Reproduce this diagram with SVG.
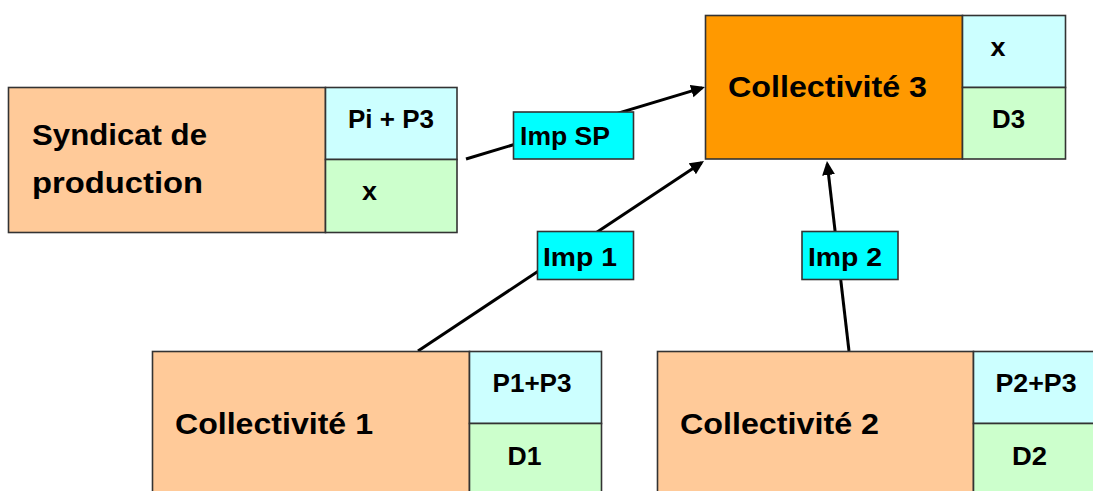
<svg xmlns="http://www.w3.org/2000/svg" width="1093" height="491" viewBox="0 0 1093 491">
  <style>
    .main { fill: #FFCA99; stroke: #333; stroke-width: 1.6; }
    .hub { fill: #FF9900; stroke: #333; stroke-width: 1.6; }
    .top { fill: #CCFFFF; stroke: #333; stroke-width: 1.6; }
    .bot { fill: #CCFFCC; stroke: #333; stroke-width: 1.6; }
    .tag { fill: #00FFFF; stroke: #333; stroke-width: 1.6; }
    .link { stroke: #000; stroke-width: 3; fill: none; marker-end: url(#head); }
    text { font-family: "Liberation Sans", Arial, sans-serif; font-weight: bold; fill: #000; }
    .big { font-size: 30px; }
    .small { font-size: 25px; }
  </style>
  <defs>
    <marker id="head" markerUnits="userSpaceOnUse" markerWidth="16" markerHeight="14" refX="11" refY="6.5" orient="auto">
      <path d="M0,0 L14,6.5 L0,13 Z" fill="#000"/>
    </marker>
  </defs>

  <rect width="1093" height="491" fill="#FFFFFF"/>

  <!-- connectors, with their labels on top -->
  <g id="connectors">
    <line class="link" x1="466" y1="159" x2="702.1" y2="87.9"/>
    <line class="link" x1="418" y1="351" x2="701.5" y2="162.7"/>
    <line class="link" x1="849" y1="351" x2="827.3" y2="164"/>

    <g id="label-imp-sp">
      <rect class="tag" x="513.5" y="112" width="120" height="47"/>
      <text class="small" x="520" y="145" textLength="90" lengthAdjust="spacingAndGlyphs">Imp SP</text>
    </g>
    <g id="label-imp-1">
      <rect class="tag" x="537.5" y="231.5" width="96" height="48"/>
      <text class="small" x="543" y="266" textLength="74" lengthAdjust="spacingAndGlyphs">Imp 1</text>
    </g>
    <g id="label-imp-2">
      <rect class="tag" x="802" y="231.5" width="96" height="48"/>
      <text class="small" x="808" y="266" textLength="74" lengthAdjust="spacingAndGlyphs">Imp 2</text>
    </g>
  </g>

  <!-- Syndicat de production -->
  <g id="node-syndicat">
    <rect class="main" x="8.5" y="87.5" width="317" height="145"/>
    <rect class="top" x="325.5" y="87.5" width="131.5" height="72"/>
    <rect class="bot" x="325.5" y="159.5" width="131.5" height="73"/>
    <text class="big" x="32" y="145" textLength="175" lengthAdjust="spacingAndGlyphs">Syndicat de</text>
    <text class="big" x="32" y="193" textLength="171" lengthAdjust="spacingAndGlyphs">production</text>
    <text class="small" x="348" y="127.5" textLength="86" lengthAdjust="spacingAndGlyphs">Pi + P3</text>
    <text class="small" x="362" y="200" textLength="15" lengthAdjust="spacingAndGlyphs">x</text>
  </g>

  <!-- Collectivité 3 -->
  <g id="node-collectivite-3">
    <rect class="hub" x="705.5" y="15.5" width="257" height="143.5"/>
    <rect class="top" x="962.5" y="15.5" width="103" height="72"/>
    <rect class="bot" x="962.5" y="87.5" width="103" height="71.5"/>
    <text class="big" x="728" y="97" textLength="199" lengthAdjust="spacingAndGlyphs">Collectivité 3</text>
    <text class="small" x="990.5" y="56" textLength="15" lengthAdjust="spacingAndGlyphs">x</text>
    <text class="small" x="992" y="128" textLength="33" lengthAdjust="spacingAndGlyphs">D3</text>
  </g>

  <!-- Collectivité 1 -->
  <g id="node-collectivite-1">
    <rect class="main" x="152.5" y="351.5" width="317" height="145"/>
    <rect class="top" x="469.5" y="351.5" width="132" height="72"/>
    <rect class="bot" x="469.5" y="423.5" width="132" height="73"/>
    <text class="big" x="175" y="433.5" textLength="198" lengthAdjust="spacingAndGlyphs">Collectivité 1</text>
    <text class="small" x="492.5" y="391.5" textLength="79" lengthAdjust="spacingAndGlyphs">P1+P3</text>
    <text class="small" x="507.5" y="464.5" textLength="34" lengthAdjust="spacingAndGlyphs">D1</text>
  </g>

  <!-- Collectivité 2 -->
  <g id="node-collectivite-2">
    <rect class="main" x="657.5" y="351.5" width="316" height="145"/>
    <rect class="top" x="973.5" y="351.5" width="132" height="72"/>
    <rect class="bot" x="973.5" y="423.5" width="132" height="73"/>
    <text class="big" x="680" y="433.5" textLength="199" lengthAdjust="spacingAndGlyphs">Collectivité 2</text>
    <text class="small" x="995.5" y="391.5" textLength="81" lengthAdjust="spacingAndGlyphs">P2+P3</text>
    <text class="small" x="1012" y="464.5" textLength="35" lengthAdjust="spacingAndGlyphs">D2</text>
  </g>
</svg>
